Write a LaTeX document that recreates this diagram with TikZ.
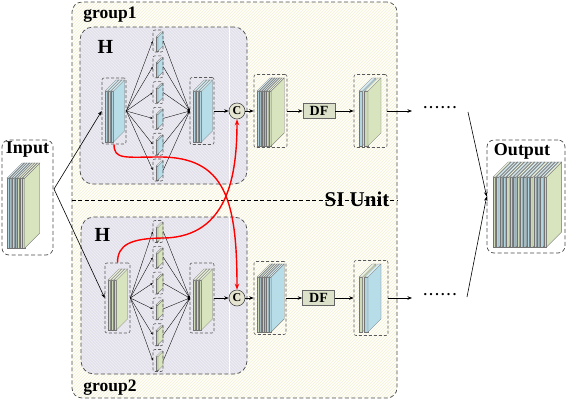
\documentclass[tikz,border=0pt]{standalone}
\usepackage{fontspec}
\setmainfont{Liberation Serif}
\usetikzlibrary{arrows.meta,patterns}

% Colori delle lastre e dei riquadri
\definecolor{blu}{HTML}{B7DDE8}
\definecolor{grn}{HTML}{D7E4BD}
\definecolor{gbl}{HTML}{A9C2C8}
\definecolor{hfill}{HTML}{E3E1EB}
\definecolor{hhatch}{HTML}{F1EFF5}
\definecolor{sifill}{HTML}{FEFEF9}
\definecolor{sihatch}{HTML}{F5F1D6}
\definecolor{cfill}{HTML}{E4E4D0}
\definecolor{dffill}{HTML}{DCE2C9}

\tikzset{
  slabline/.style={draw=black!55, line width=0.3pt},
  fbox/.style={draw=black!65, dashed, dash pattern=on 3pt off 2pt, line width=0.6pt, rounded corners=2pt, inner sep=0pt},
  sibox/.style={draw=black!70, dash pattern=on 4pt off 2.5pt, line width=0.7pt, rounded corners=10pt,
    preaction={fill=sifill}, pattern=north east lines, pattern color=sihatch},
  hbox/.style={draw=black!70, dash pattern=on 4pt off 2.5pt, line width=0.7pt, rounded corners=13pt,
    preaction={fill=hfill}, pattern=north west lines, pattern color=hhatch},
  iobox/.style={draw=black!70, dash pattern=on 4pt off 2.5pt, line width=0.7pt, rounded corners=7pt, fill=white},
  sepline/.style={black, dash pattern=on 4pt off 2.5pt, line width=0.7pt},
  grouplab/.style={font=\fontsize{17.5}{19}\selectfont\bfseries, inner sep=0pt},
  iolab/.style={font=\fontsize{18}{20}\selectfont\bfseries, inner sep=0pt},
  hlab/.style={font=\fontsize{20}{22}\selectfont\bfseries, inner sep=0pt},
  silab/.style={font=\fontsize{21}{22}\selectfont\bfseries, inner sep=0pt},
  catnode/.style={circle, draw=black!70, fill=cfill, line width=0.6pt, minimum size=16pt, inner sep=0pt,
    font=\fontsize{12}{12}\selectfont\bfseries},
  dfnode/.style={draw=black!60, fill=dffill, line width=0.6pt, minimum width=32pt, minimum height=15pt,
    inner sep=0pt, font=\fontsize{14}{14}\selectfont\bfseries},
  dotsnode/.style={font=\fontsize{14}{14}\selectfont\bfseries, inner sep=0pt},
  arr/.style={-{Stealth[length=4.5pt,width=3.5pt]}, line width=0.6pt},
  fan/.style={-{Stealth[length=2.5pt,width=2pt]}, line width=0.35pt},
  redarr/.style={red, line width=1.4pt, -{Stealth[length=6pt,width=4.5pt]}}
}

% Lastra singola: x, y base, spessore, altezza, profondita, colore
\newcommand{\lastra}[6]{%
  \filldraw[slabline, fill=#6!90!gray] (#1,#2) rectangle (#1+#3,#2-#4);
  \filldraw[slabline, fill=#6] (#1+#3,#2) -- (#1+#3+#5,#2-#5) -- (#1+#3+#5,#2-#4-#5) -- (#1+#3,#2-#4) -- cycle;
  \filldraw[slabline, fill=#6!55!white] (#1,#2-#4) -- (#1+#5,#2-#4-#5) -- (#1+#3+#5,#2-#4-#5) -- (#1+#3,#2-#4) -- cycle;
}
% Pila di lastre: x, y base, passo, spessore, altezza, profondita, colori
\newcommand{\pila}[7]{%
  \foreach \col [count=\i from 0] in {#7} {\lastra{#1+\i*#3}{#2}{#4}{#5}{#6}{\col}}
}

\begin{document}
\begin{tikzpicture}[x=1pt,y=-1pt]
  \useasboundingbox (0,0) rectangle (566,400);

  % Righe dei due gruppi
  \def\ya{111} % riga del gruppo 1
  \def\yb{298} % riga del gruppo 2

  % Riquadro SI Unit e separatore
  \node[sibox, minimum width=325pt, minimum height=396pt] (si) at (234.5,200) {};
  \draw[sepline] (si.west) -- (si.east);
  \node[grouplab] (gA) at (110,15) {group1};
  \node[grouplab] (gB) at (110,388) {group2};
  \node[silab] (siu) at (357,199) {SI Unit};

  % Riquadri H
  \node[hbox, minimum width=167pt, minimum height=157pt] (hA) at (163.5,105.5) {};
  \node[hbox, minimum width=166pt, minimum height=157pt] (hB) at (164,295.5) {};
  \draw[white, line width=0.8pt] (229,27) -- (229,184);
  \draw[white, line width=0.8pt] (229,217) -- (229,374);
  \node[hlab] (hlA) at (105.5,46.5) {H};
  \node[hlab] (hlB) at (102.5,235) {H};

  % Gruppo 1: pile dentro H
  \pila{105}{142}{3}{2.5}{51}{11}{blu,blu,blu}
  \node[fbox, minimum width=24pt, minimum height=66pt] (inA) at (114,\ya) {};
  \pila{193}{142}{3}{2.5}{51}{11}{blu,blu,blu}
  \node[fbox, minimum width=24pt, minimum height=67pt] (outA) at (202,\ya) {};
  \foreach \y [count=\k] in {41,66.8,92.6,118.4,144.2,170} {
    \lastra{156}{\y+10}{2}{14}{5}{blu}
    \node[fbox, minimum width=10pt, minimum height=22pt] (midA\k) at (158,\y) {};
    \draw[fan] (inA.east) -- (midA\k.west);
    \draw[fan] (midA\k.east) -- (outA.west);
  }

  % Gruppo 2: pile dentro H
  \pila{108}{330}{3}{2.5}{50}{11}{grn,grn,grn}
  \node[fbox, minimum width=25pt, minimum height=70pt] (inB) at (117.5,\yb) {};
  \pila{193}{330}{3}{2.5}{50}{11}{grn,grn,grn}
  \node[fbox, minimum width=24pt, minimum height=70pt] (outB) at (202,\yb) {};
  \foreach \y [count=\k] in {231.5,257.3,283.1,308.9,334.7,360.5} {
    \lastra{156}{\y+10}{2}{14}{5}{grn}
    \node[fbox, minimum width=10pt, minimum height=22pt] (midB\k) at (158,\y) {};
    \draw[fan] (inB.east) -- (midB\k.west);
    \draw[fan] (midB\k.east) -- (outB.west);
  }

  % Concatenazione, fusione e DF
  \node[catnode] (catA) at (237,\ya) {C};
  \node[catnode] (catB) at (237,\yb) {C};
  \pila{257}{146}{2.4}{2.2}{55}{13}{blu,gbl,gbl,gbl,grn,grn}
  \node[fbox, minimum width=33pt, minimum height=73pt] (fusA) at (270.5,\ya) {};
  \pila{257}{332}{2.4}{2.2}{55}{13}{grn,gbl,grn,gbl,blu,blu}
  \node[fbox, minimum width=32pt, minimum height=73pt] (fusB) at (270,\yb) {};
  \node[dfnode] (dfA) at (319,\ya) {DF};
  \node[dfnode] (dfB) at (318.5,\yb) {DF};
  \pila{359}{146}{5.5}{3.5}{55}{13}{blu,grn}
  \node[fbox, minimum width=33pt, minimum height=73pt] (resA) at (370.5,\ya) {};
  \pila{359}{332}{5.5}{3.5}{55}{13}{grn,blu}
  \node[fbox, minimum width=34pt, minimum height=75pt] (resB) at (371,\yb) {};
  \coordinate (endA) at (412,\ya);
  \coordinate (endB) at (412,\yb);
  \node[dotsnode] (dotsA) at (440,\ya-3) {.\,.\,.\,.\,.\,.};
  \node[dotsnode] (dotsB) at (440,\yb-3) {.\,.\,.\,.\,.\,.};

  % Frecce lungo le righe
  \draw[arr] (outA.east) -- (catA.west);
  \draw[arr] (catA.east) -- (fusA.west);
  \draw[arr] (fusA.east) -- (dfA.west);
  \draw[arr] (dfA.east) -- (resA.west);
  \draw[arr] (resA.east) -- (endA);
  \draw[arr] (outB.east) -- (catB.west);
  \draw[arr] (catB.east) -- (fusB.west);
  \draw[arr] (fusB.east) -- (dfB.west);
  \draw[arr] (dfB.east) -- (resB.west);
  \draw[arr] (resB.east) -- (endB);

  % Ingresso
  \node[iobox, minimum width=51pt, minimum height=115pt] (inp) at (27.5,197.5) {};
  \node[iolab] (inplab) at (27.5,150) {Input};
  \pila{7}{248}{2.6}{2.2}{70}{15}{blu,gbl,blu,gbl,grn,grn,grn}
  \coordinate (fork) at (54,189);
  \draw[arr] (fork) -- (inA.west);
  \draw[arr] (fork) -- (inB.west);

  % Uscita
  \node[iobox, minimum width=78pt, minimum height=113pt] (outp) at (526,196.5) {};
  \node[iolab] (outplab) at (522,151) {Output};
  \pila{493}{247}{3.4}{2.6}{70}{15}{grn,blu,gbl,blu,grn,blu,gbl,grn,blu,gbl,blu,grn,blu,gbl,blu,grn}
  \coordinate (tailA) at (468,112);
  \coordinate (tailB) at (467,297);
  \draw[arr] (tailA) -- (outp.west);
  \draw[arr] (tailB) -- (outp.west);

  % Collegamenti incrociati in rosso
  \draw[redarr] (inA.south) .. controls (114,160) and (125,157) .. (160,157)
    .. controls (225,157) and (237,200) .. (catB.north);
  \draw[redarr] (inB.north) .. controls (117.5,245) and (130,238) .. (165,238)
    .. controls (228,236) and (237,175) .. (catA.south);

\end{tikzpicture}
\end{document}
